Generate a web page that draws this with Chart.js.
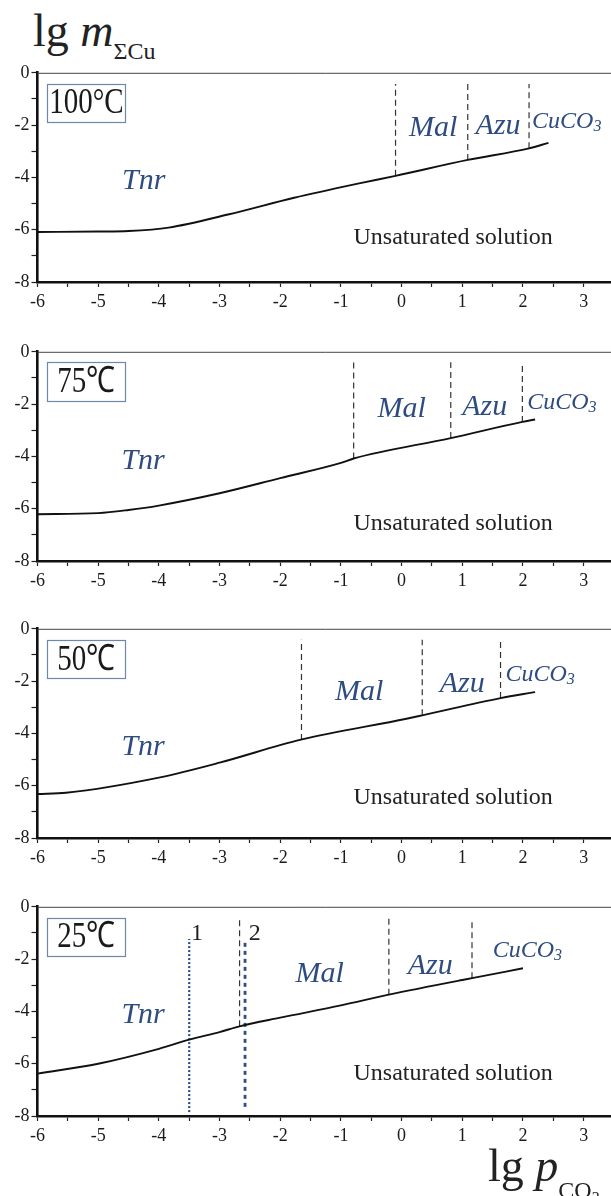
<!DOCTYPE html>
<html>
<head>
<meta charset="utf-8">
<script src="https://cdn.jsdelivr.net/npm/chart.js"></script>
<style>
  body { margin: 0; background: #fff; width: 611px; height: 1196px; overflow: hidden; position: relative;
         font-family: "Liberation Serif", serif; color: #222; }
  canvas { position: absolute; left: 0; }
  .ttl { position: absolute; font-size: 46px; line-height: 46px; white-space: nowrap; }
</style>
</head>
<body>
<div class="ttl" style="left:33px;top:8px">lg <i>m</i><span style="font-size:24px;vertical-align:-13px">ΣCu</span></div>
<canvas id="c0" width="618" height="260" style="top:60px"></canvas>
<canvas id="c1" width="618" height="260" style="top:339px"></canvas>
<canvas id="c2" width="618" height="260" style="top:616px"></canvas>
<canvas id="c3" width="618" height="260" style="top:894px"></canvas>
<div class="ttl" style="left:488px;top:1143px">lg <i>p</i><span style="font-size:24px;vertical-align:-17px">CO<span style="font-size:16px;vertical-align:-5px">2</span></span></div>

<script>
// panel titles
const temps = ['100°C', '75℃', '50℃', '25℃'];

// saturation curves, lg pCO2 vs lg m(ΣCu)
const lgP100 = [-6, -5, -4.5, -3.84, -2.86, -1.77, -0.68, -0.10, 1.09, 2.10, 2.42];
const lgM100 = [-6.09, -6.07, -6.05, -5.92, -5.42, -4.78, -4.22, -3.94, -3.33, -2.89, -2.68];
const lgP75 = [-6, -5, -4.5, -4, -3, -2, -1, -0.79, 0.81, 1.99, 2.2];
const lgM75 = [-6.21, -6.17, -6.05, -5.88, -5.41, -4.83, -4.25, -4.08, -3.30, -2.68, -2.59];
const lgP50 = [-6, -5.53, -4, -3, -1.66, 0.08, 0.34, 1.63, 2.2];
const lgM50 = [-6.32, -6.27, -5.69, -5.12, -4.24, -3.44, -3.31, -2.65, -2.42];
const lgP25 = [-6, -5, -4, -3.5, -3, -2.67, -2, -1, -0.21, 1.0, 1.16, 2.0];
const lgM25 = [-6.38, -6.0, -5.43, -5.08, -4.79, -4.57, -4.24, -3.77, -3.36, -2.80, -2.73, -2.35];

// phase boundaries (Tnr|Mal, Mal|Azu, Azu|CuCO3): x, lower end on the curve
const bndP100 = [-0.10, 1.09, 2.10], bndM100 = [-3.94, -3.33, -2.89];
const bndP75 = [-0.79, 0.81, 1.99], bndM75 = [-4.08, -3.30, -2.68];
const bndP50 = [-1.65, 0.34, 1.63], bndM50 = [-4.25, -3.31, -2.65];
const bndP25 = [-2.67, -0.21, 1.16], bndM25 = [-4.57, -3.36, -2.73];
const bndTop = [-0.43, -0.40, -0.42, -0.46];

// 25 °C limits 1 and 2
const limNames = ['1', '2'];
const limP = [-3.50, -2.58];
const limLow = [-7.85, -7.65];
const limHigh = [-1.23, -1.30];

const xTicks = [-6, -5, -4, -3, -2, -1, 0, 1, 2, 3];
const yTicks = [-8, -6, -4, -2, 0];

const BLUE = '#2e4c80';
const serif = '"Liberation Serif", "Times New Roman", serif';

// where the in-plot texts go (data units)
const layout = [
  { box: [-5.84, -0.41, -4.55, -1.88], tnr: [-4.25, -4.16], mal: [0.52, -2.12], azu: [1.59, -2.05], cuco: [2.15, -1.88], uns: [0.85, -6.30] },
  { box: [-5.84, -0.40, -4.55, -1.89], tnr: [-4.26, -4.17], mal: [0.00, -2.21], azu: [1.37, -2.12], cuco: [2.07, -1.96], uns: [0.85, -6.56] },
  { box: [-5.84, -0.42, -4.55, -1.89], tnr: [-4.26, -4.52], mal: [-0.70, -2.42], azu: [1.00, -2.13], cuco: [1.71, -1.74], uns: [0.85, -6.45] },
  { box: [-5.84, -0.41, -4.55, -1.87], tnr: [-4.26, -4.15], mal: [-1.35, -2.59], azu: [0.47, -2.25], cuco: [1.50, -1.68], uns: [0.85, -6.37],
    nums: [[-3.37, -1.03], [-2.42, -1.03]] }
];

const decor = {
  id: 'decor',
  afterDraw(chart) {
    const { ctx, chartArea: a, scales: { x, y } } = chart;
    const lay = layout[chart.options.panel];
    const px = v => x.getPixelForValue(v), py = v => y.getPixelForValue(v);
    ctx.save();
    // thin frame top
    ctx.strokeStyle = '#444'; ctx.lineWidth = 1;
    ctx.beginPath(); ctx.moveTo(a.left, a.top + 0.5); ctx.lineTo(a.right, a.top + 0.5); ctx.stroke();

    // temperature box
    const b = lay.box;
    const bx = px(b[0]), by = py(b[1]), bw = px(b[2]) - bx, bh = py(b[3]) - by;
    ctx.strokeStyle = '#6d88aa'; ctx.lineWidth = 1.2;
    ctx.strokeRect(Math.round(bx) + 0.5, Math.round(by) + 0.5, Math.round(bw), Math.round(bh));
    ctx.fillStyle = '#1a1a1a';
    ctx.font = '29px ' + serif;
    ctx.textAlign = 'center'; ctx.textBaseline = 'middle';
    ctx.save();
    ctx.translate(bx + bw / 2, by + bh / 2 + 1);
    ctx.scale(1, 1.25);
    ctx.fillText(temps[chart.options.panel], 0, 0);
    ctx.restore();

    // phase names
    ctx.fillStyle = BLUE;
    ctx.font = 'italic 30px ' + serif;
    ctx.fillText('Tnr', px(lay.tnr[0]), py(lay.tnr[1]));
    ctx.fillText('Mal', px(lay.mal[0]), py(lay.mal[1]));
    ctx.fillText('Azu', px(lay.azu[0]), py(lay.azu[1]));
    ctx.textAlign = 'left';
    ctx.font = 'italic 24px ' + serif;
    const cx = px(lay.cuco[0]), cy = py(lay.cuco[1]);
    ctx.fillText('CuCO', cx, cy);
    const w = ctx.measureText('CuCO').width;
    ctx.font = 'italic 16px ' + serif;
    ctx.fillText('3', cx + w, cy + 5);

    ctx.textAlign = 'center';
    ctx.fillStyle = '#222';
    ctx.font = '24px ' + serif;
    ctx.fillText('Unsaturated solution', px(lay.uns[0]), py(lay.uns[1]));

    if (lay.nums) {
      ctx.font = '24px ' + serif;
      lay.nums.forEach((n, k) => ctx.fillText(limNames[k], px(n[0]), py(n[1])));
    }
    ctx.restore();
  }
};

function line(xs, ys) { return xs.map((v, k) => ({ x: v, y: ys[k] })); }

function makePanel(i, p, m, bp, bm) {
  const sets = [{
    data: line(p, m), showLine: true, borderColor: '#111', borderWidth: 1.9,
    pointRadius: 0, cubicInterpolationMode: 'monotone'
  }];
  bp.forEach((v, k) => sets.push({
    data: [{ x: v, y: bm[k] }, { x: v, y: bndTop[i] }], showLine: true,
    borderColor: '#333', borderWidth: 1.2, borderDash: [6, 4], pointRadius: 0
  }));
  if (i === 3) {
    limP.forEach((v, k) => sets.push({
      data: [{ x: v, y: limLow[k] }, { x: v, y: limHigh[k] }], showLine: true,
      borderColor: '#2f4f8a', borderWidth: k === 0 ? 2.2 : 2.8,
      borderDash: k === 0 ? [2, 2] : [4, 4], pointRadius: 0
    }));
  }
  const tickFont = { family: serif, size: 18 };
  new Chart(document.getElementById('c' + i), {
    type: 'scatter',
    data: { datasets: sets },
    options: {
      panel: i,
      responsive: false,
      animation: false,
      layout: { padding: { top: 12, left: 0, right: 0, bottom: 0 } },
      plugins: { legend: { display: false }, tooltip: { enabled: false }, title: { display: false } },
      scales: {
        x: {
          type: 'linear', min: -6, max: 3.5,
          afterFit: s => { s.height = 38; },
          ticks: {
            stepSize: 0.5, includeBounds: false, color: '#1a1a1a', font: tickFont, padding: 4, maxRotation: 0,
            autoSkip: false,
            callback: v => xTicks.includes(v) ? String(v) : ''
          },
          grid: { drawOnChartArea: false, drawTicks: true, tickLength: 5, tickColor: '#222', tickWidth: 1.2 },
          border: { display: true, color: '#111', width: 2.6 }
        },
        y: {
          type: 'linear', min: -8, max: 0,
          afterFit: s => { s.width = 37.5; },
          ticks: {
            stepSize: 1, color: '#1a1a1a', font: tickFont, padding: 2, autoSkip: false,
            callback: v => yTicks.includes(v) ? String(v) : ''
          },
          grid: { drawOnChartArea: false, drawTicks: true, tickLength: 6, tickColor: '#222', tickWidth: 1.2 },
          border: { display: true, color: '#111', width: 2.6 }
        }
      }
    },
    plugins: [decor]
  });
}

makePanel(0, lgP100, lgM100, bndP100, bndM100);
makePanel(1, lgP75, lgM75, bndP75, bndM75);
makePanel(2, lgP50, lgM50, bndP50, bndM50);
makePanel(3, lgP25, lgM25, bndP25, bndM25);
</script>
</body>
</html>
